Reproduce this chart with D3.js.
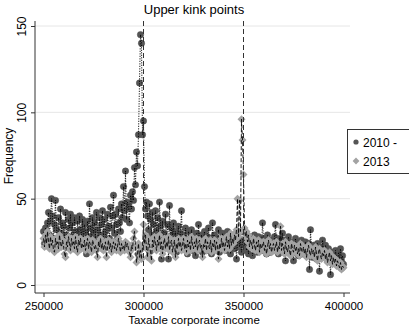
<!DOCTYPE html>
<html><head><meta charset="utf-8">
<script src="https://cdn.jsdelivr.net/npm/d3@7"></script>
<style>
html,body{margin:0;padding:0;background:#fff;}
svg{display:block;font-family:"Liberation Sans",Arial,sans-serif;}
</style></head>
<body><div id="chart"></div>
<script>
const title = "Upper kink points";
const xTitle = "Taxable corporate income";
const yTitle = "Frequency";
const seriesNames = ["2010 -", "2013"];
const xTicks = [250000, 300000, 350000, 400000];
const yTicks = [0, 50, 100, 150];
const kinks = [300000, 350000];
const binStart = 250000, binWidth = 500;

const series2010 = [
31,24,33,27,36,42,29,37,50,40,
27,35,49,32,25,39,22,44,30,36,
34,26,42,29,23,38,33,41,28,36,
21,39,31,27,37,24,40,32,29,38,
26,35,31,18,37,28,47,33,25,39,
30,36,27,42,32,23,39,29,35,43,
28,38,31,24,41,34,27,45,33,40,
52,30,41,35,27,44,36,31,47,39,
57,43,66,38,48,45,36,52,44,54,
49,68,58,77,69,87,117,145,140,87,
95,57,44,48,40,32,47,38,29,42,
35,26,43,31,39,27,48,34,15,37,
30,22,41,28,35,15,46,26,33,29,
36,23,31,19,28,34,25,30,43,24,
29,21,33,26,18,31,27,24,32,20,
28,25,17,30,23,35,27,22,29,19,
26,31,24,20,28,33,22,27,18,36,
25,29,21,27,24,32,19,26,23,30,
22,28,25,20,31,24,27,18,26,23,
29,21,27,15,24,30,22,26,19,25,
31,23,27,20,25,18,28,22,26,17,
24,29,21,26,19,28,23,25,20,36,
27,22,25,18,29,21,24,19,26,23,
20,28,35,22,25,18,27,21,24,30,
19,26,14,23,21,28,20,25,18,24,
14,22,27,19,24,17,23,20,26,18,
22,19,25,17,21,24,9,32,20,16,
23,18,21,15,24,19,8,22,17,26,
20,16,23,18,14,21,17,6,19,15,
18,13,20,16,12,19,15,21,14,17,
12];

const series2013 = [
27,22,29,24,31,25,21,28,23,26,
20,19,27,23,25,21,29,24,22,26,
23,18,16,25,22,28,24,20,27,23,
25,21,28,22,19,26,23,27,21,24,
22,26,20,24,27,21,25,23,19,26,
24,21,23,20,16,25,22,27,21,24,
20,23,25,16,22,26,21,24,19,23,
25,21,24,20,22,27,23,19,24,21,
23,20,25,22,24,21,19,16,23,21,
27,31,22,13,18,24,16,20,15,22,
35,24,29,21,16,27,23,19,14,26,
22,28,24,20,26,23,29,21,25,18,
24,27,21,25,22,28,20,24,26,19,
23,26,16,24,21,27,22,25,20,23,
27,21,24,19,26,22,25,20,28,23,
21,25,22,27,20,24,26,21,23,16,
24,22,27,20,25,23,21,26,19,24,
22,26,20,25,23,15,24,21,27,22,
25,20,24,28,22,26,21,30,23,27,
24,29,26,32,50,28,49,31,96,84,
64,33,28,31,25,29,22,26,24,21,
27,23,20,25,22,26,19,24,21,23,
25,20,23,18,22,26,21,24,19,22,
24,20,22,25,19,23,21,34,20,24,
22,18,25,21,19,23,20,17,24,21,
19,23,20,22,18,21,17,24,20,19,
22,18,21,16,20,23,19,17,21,18,
20,16,22,18,14,19,21,17,15,19,
17,20,15,18,13,16,19,14,17,12,
16,13,15,11,14,12,10,13,9,11,
10];

const W = 409, H = 326;
const plot = {left: 35, right: 350, top: 21, bottom: 293};
const x = d3.scaleLinear().domain([250000, 400000]).range([43.5, 343.5]);
const y = d3.scaleLinear().domain([0, 150]).range([285, 26]);

const svg = d3.select("#chart").append("svg").attr("width", W).attr("height", H);

// gridlines
svg.append("g").selectAll("line").data(yTicks).join("line")
  .attr("x1", plot.left).attr("x2", plot.right)
  .attr("y1", d => y(d)).attr("y2", d => y(d))
  .attr("stroke", "#e6e6e6").attr("stroke-width", 1);

const d10 = series2010.map((v, i) => ({x: binStart + i * binWidth, v}));
const d13 = series2013.map((v, i) => ({x: binStart + i * binWidth, v}));
const line = d3.line().x(d => x(d.x)).y(d => y(d.v));

// 2010 markers + dotted line
svg.append("g").selectAll("circle").data(d10).join("circle")
  .attr("cx", d => x(d.x)).attr("cy", d => y(d.v)).attr("r", 3.2)
  .attr("fill", "#555").attr("stroke", "#4a4a4a").attr("stroke-width", 0.5);
svg.append("path").datum(d10).attr("d", line)
  .attr("fill", "none").attr("stroke", "#000").attr("stroke-width", 0.9)
  .attr("stroke-dasharray", "1.2,1.3");

// 2013 markers + dashed line
const diamond = (cx, cy, r) => `M${cx},${cy - r}L${cx + r},${cy}L${cx},${cy + r}L${cx - r},${cy}Z`;
svg.append("g").selectAll("path").data(d13).join("path")
  .attr("d", d => diamond(x(d.x), y(d.v), 4))
  .attr("fill", "#a3a3a3");
svg.append("path").datum(d13).attr("d", line)
  .attr("fill", "none").attr("stroke", "#000").attr("stroke-width", 0.9)
  .attr("stroke-dasharray", "4,2");

// kink lines
svg.append("g").selectAll("line").data(kinks).join("line")
  .attr("x1", d => x(d)).attr("x2", d => x(d))
  .attr("y1", plot.top).attr("y2", plot.bottom)
  .attr("stroke", "#333").attr("stroke-width", 1).attr("stroke-dasharray", "5,3");

// axes
const xAxis = d3.axisBottom(x).tickValues(xTicks).tickFormat(d3.format("d")).tickSize(4).tickSizeOuter(0);
const gx = svg.append("g").attr("transform", `translate(0,${plot.bottom})`).call(xAxis);
gx.select(".domain").remove();
gx.selectAll(".tick line").attr("stroke", "#333");
gx.selectAll("text").attr("font-size", 11.5).attr("fill", "#000").attr("dy", null).attr("y", 16.5)
  .attr("font-family", "Liberation Sans, Arial, sans-serif");
svg.append("line").attr("x1", plot.left).attr("x2", plot.right).attr("y1", plot.bottom).attr("y2", plot.bottom)
  .attr("stroke", "#333").attr("stroke-width", 1);

const yAxis = d3.axisLeft(y).tickValues(yTicks).tickSize(4).tickSizeOuter(0).tickFormat(d3.format("d"));
const gy = svg.append("g").attr("transform", `translate(${plot.left},0)`).call(yAxis);
gy.select(".domain").remove();
gy.selectAll(".tick line").attr("stroke", "#333");
gy.selectAll("text").attr("font-size", 12).attr("fill", "#000")
  .attr("x", null).attr("dy", null).attr("text-anchor", "middle")
  .attr("transform", "translate(-9,0) rotate(-90)")
  .attr("font-family", "Liberation Sans, Arial, sans-serif");
svg.append("line").attr("x1", plot.left).attr("x2", plot.left).attr("y1", plot.top).attr("y2", plot.bottom)
  .attr("stroke", "#333").attr("stroke-width", 1);

// titles
svg.append("text").attr("x", 194).attr("y", 14).attr("text-anchor", "middle")
  .attr("font-size", 13).text(title);
svg.append("text").attr("x", 194).attr("y", 323.5).attr("text-anchor", "middle")
  .attr("font-size", 11.5).text(xTitle);
svg.append("text").attr("transform", "translate(13,156) rotate(-90)").attr("text-anchor", "middle")
  .attr("font-size", 12).text(yTitle);

// legend
const lg = svg.append("g");
lg.append("rect").attr("x", 347.5).attr("y", 129.5).attr("width", 70).attr("height", 44)
  .attr("fill", "#fff").attr("stroke", "#333").attr("stroke-width", 1);
lg.append("circle").attr("cx", 356).attr("cy", 142).attr("r", 2.6).attr("fill", "#555");
lg.append("text").attr("x", 363).attr("y", 146.5).attr("font-size", 12).text(seriesNames[0]);
lg.append("path").attr("d", diamond(356, 161, 3.4)).attr("fill", "#a3a3a3");
lg.append("text").attr("x", 363).attr("y", 165.5).attr("font-size", 12).text(seriesNames[1]);
</script></body></html>
